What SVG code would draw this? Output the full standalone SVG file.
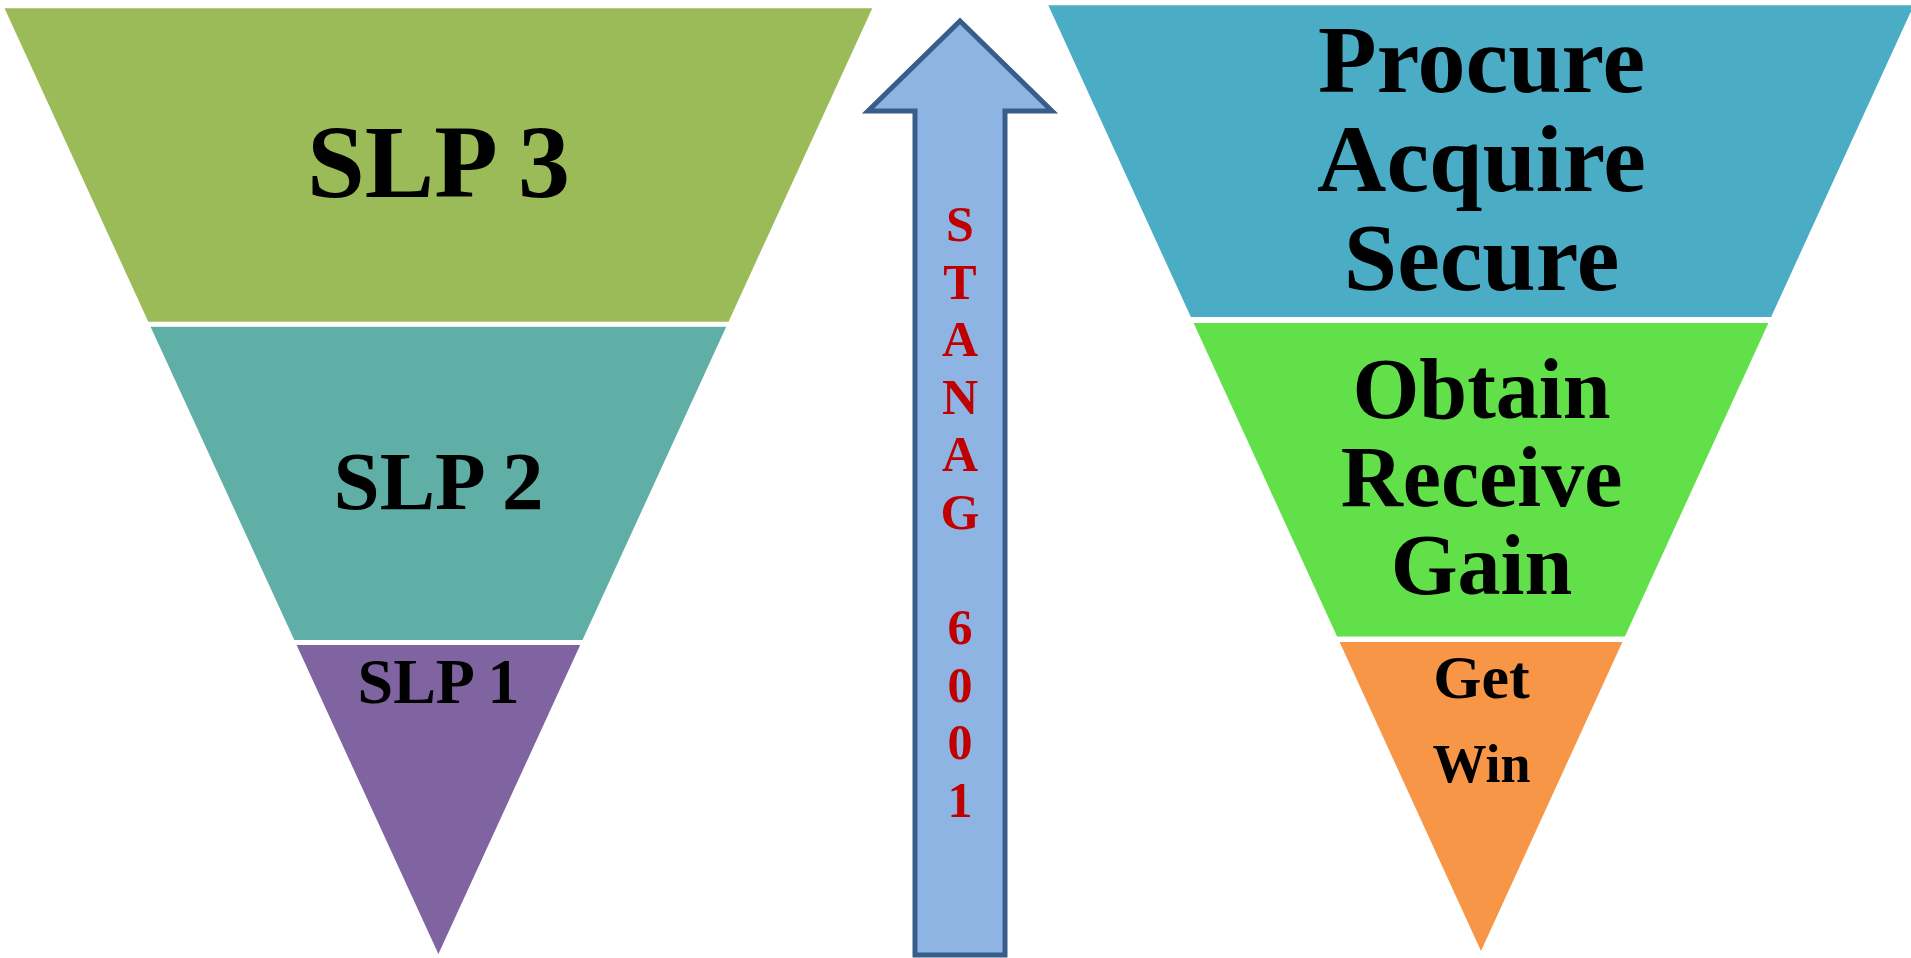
<svg xmlns="http://www.w3.org/2000/svg" width="1911" height="958" viewBox="0 0 1911 958">
<style>
.lbl{font-family:"Liberation Serif","Times New Roman",serif;font-weight:bold;fill:#000;text-anchor:middle}
.stan{font-family:"Liberation Serif","Times New Roman",serif;font-weight:bold;fill:#C00000;text-anchor:middle;font-size:50px}
</style>
<rect width="1911" height="958" fill="#FFFFFF"/>
<g id="slp3">
<polygon points="4.5,8.3 872.3,8.3 728.5,321.7 148.3,321.7" fill="#9BBB59"/>
<text class="lbl" x="438.5" y="197" font-size="104">SLP 3</text>
</g>
<g id="slp2">
<polygon points="150.6,326.7 726.2,326.7 582.5,640 294.3,640" fill="#5FAFA7"/>
<text class="lbl" x="438.5" y="509" font-size="83">SLP 2</text>
</g>
<g id="slp1">
<polygon points="296.6,645 580.2,645 438.4,954" fill="#8064A2"/>
<text class="lbl" x="438.5" y="702.5" font-size="64">SLP 1</text>
</g>
<g id="stanag-arrow">
<polygon points="960,21 1052,111 1005,111 1005,955 915,955 915,111 868,111" fill="#8EB4E3" stroke="#385D8A" stroke-width="5" stroke-linejoin="miter"/>
<text class="stan" x="960" y="241">S</text>
<text class="stan" x="960" y="298.6">T</text>
<text class="stan" x="960" y="356.2">A</text>
<text class="stan" x="960" y="413.8">N</text>
<text class="stan" x="960" y="471.4">A</text>
<text class="stan" x="960" y="529">G</text>
<text class="stan" x="960" y="644.2">6</text>
<text class="stan" x="960" y="701.8">0</text>
<text class="stan" x="960" y="759.4">0</text>
<text class="stan" x="960" y="817">1</text>
</g>
<g id="procure">
<polygon points="1048.3,5.3 1913.7,5.3 1771.1,317 1190.9,317" fill="#4BACC6"/>
<text class="lbl" x="1481.5" y="91.6" font-size="96">Procure</text>
<text class="lbl" x="1481.5" y="190.6" font-size="96">Acquire</text>
<text class="lbl" x="1481.5" y="290" font-size="96">Secure</text>
</g>
<g id="obtain">
<polygon points="1193.6,323 1768.4,323 1624.9,636.5 1337.1,636.5" fill="#61E04A"/>
<text class="lbl" x="1481.5" y="418.4" font-size="86">Obtain</text>
<text class="lbl" x="1481.5" y="505.8" font-size="86">Receive</text>
<text class="lbl" x="1481.5" y="593.8" font-size="86">Gain</text>
</g>
<g id="get">
<polygon points="1339.6,642 1622.4,642 1481,951" fill="#F79646"/>
<text class="lbl" x="1481.5" y="697.6" font-size="62">Get</text>
<text class="lbl" x="1481.5" y="782" font-size="54">Win</text>
</g>
</svg>
